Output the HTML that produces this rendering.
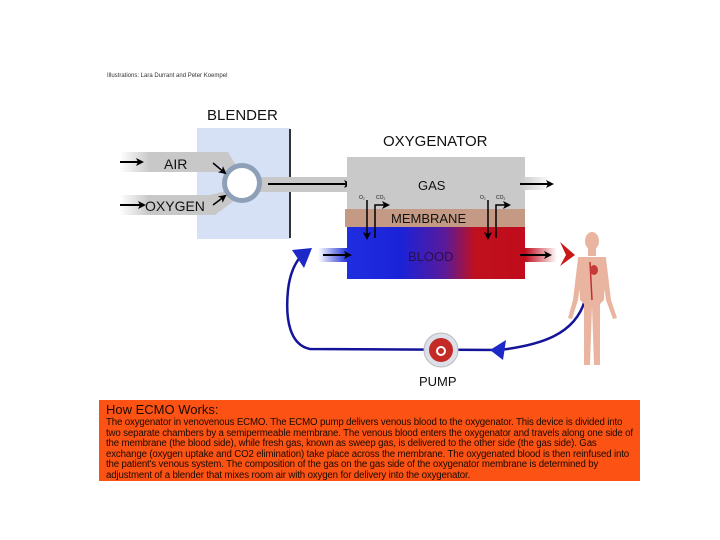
<!DOCTYPE html>
<html><head><style>
body{margin:0;background:#fff;width:720px;height:540px;overflow:hidden;font-family:"Liberation Sans",sans-serif;}
.box{position:absolute;left:99px;top:400px;width:541px;height:81px;background:#fc5314;color:#1a0a00;}
.box h1{margin:0;position:absolute;left:7px;top:2px;font-size:13px;font-weight:normal;}
.box p{margin:0;position:absolute;left:7px;top:18px;width:528px;font-size:9.7px;line-height:10.5px;letter-spacing:-0.15px;}
</style></head><body>
<svg width="720" height="540" style="position:absolute;left:0;top:0" font-family="Liberation Sans, sans-serif">
<defs>
<linearGradient id="bl" x1="0" x2="1"><stop offset="0" stop-color="#1f2ee0"/><stop offset="0.3" stop-color="#1a22d8"/><stop offset="0.55" stop-color="#5a1a9a"/><stop offset="0.72" stop-color="#c0101e"/><stop offset="1" stop-color="#c00c1c"/></linearGradient>
<linearGradient id="fadeB" x1="0" x2="1"><stop offset="0" stop-color="#fff"/><stop offset="1" stop-color="#1e2ed8"/></linearGradient>
<linearGradient id="fadeR" x1="0" x2="1"><stop offset="0" stop-color="#c00c1c"/><stop offset="1" stop-color="#fff"/></linearGradient>
<linearGradient id="fadeG" x1="0" x2="1"><stop offset="0" stop-color="#fff"/><stop offset="0.3" stop-color="#c8c8c8"/></linearGradient>
<linearGradient id="fadeG2" x1="0" x2="1"><stop offset="0" stop-color="#c8c8c8"/><stop offset="1" stop-color="#fff"/></linearGradient>
<marker id="ah" markerWidth="8" markerHeight="8" refX="6" refY="4" orient="auto" markerUnits="userSpaceOnUse"><path d="M0,0 L8,4 L0,8 L2,4z" fill="#000"/></marker>
</defs>
<text x="107" y="77" font-size="6" fill="#333">Illustrations: Lara Durrant and Peter Koempel</text>
<text x="207" y="120" font-size="15" fill="#111">BLENDER</text>
<text x="383" y="146" font-size="15" fill="#111">OXYGENATOR</text>
<rect x="197" y="128" width="93" height="111" fill="#d6e1f6"/>
<line x1="290" y1="129" x2="290" y2="238" stroke="#333" stroke-width="2"/>
<rect x="120" y="152" width="100" height="20" fill="url(#fadeG)"/>
<polygon points="215,152 228,152 240,172 225,176" fill="#c8c8c8"/>
<rect x="120" y="195" width="95" height="20" fill="url(#fadeG)"/>
<polygon points="210,195 230,190 235,200 215,215" fill="#c8c8c8"/>
<rect x="258" y="177" width="92" height="15" fill="#c8c8c8"/>
<circle cx="242" cy="183" r="20" fill="#8da0b8"/>
<circle cx="242" cy="183" r="15" fill="#fff"/>
<text x="164" y="169" font-size="14" fill="#111">AIR</text>
<text x="145" y="211" font-size="14" fill="#111">OXYGEN</text>
<line x1="120" y1="162" x2="142" y2="162" stroke="#000" stroke-width="2" marker-end="url(#ah)"/>
<line x1="120" y1="205" x2="144" y2="205" stroke="#000" stroke-width="2" marker-end="url(#ah)"/>
<line x1="213" y1="163" x2="225" y2="173" stroke="#000" stroke-width="1.5" marker-end="url(#ah)"/>
<line x1="213" y1="205" x2="225" y2="196" stroke="#000" stroke-width="1.5" marker-end="url(#ah)"/>
<line x1="268" y1="184" x2="350" y2="184" stroke="#000" stroke-width="2" marker-end="url(#ah)"/>
<rect x="347" y="157" width="178" height="53" fill="#c9c9c9"/>
<rect x="345" y="209" width="180" height="18" fill="#c49a85"/>
<rect x="347" y="227" width="178" height="52" fill="url(#bl)"/>
<text x="418" y="190" font-size="13" fill="#111">GAS</text>
<text x="391" y="223" font-size="13" fill="#111">MEMBRANE</text>
<text x="408" y="261" font-size="13" fill="#2a1050">BLOOD</text>
<rect x="520" y="177" width="32" height="13" fill="url(#fadeG2)"/>
<line x1="520" y1="184" x2="552" y2="184" stroke="#000" stroke-width="2" marker-end="url(#ah)"/>
<rect x="318" y="248" width="30" height="14" fill="url(#fadeB)"/>
<line x1="323" y1="255" x2="350" y2="255" stroke="#000" stroke-width="2" marker-end="url(#ah)"/>
<rect x="525" y="248" width="32" height="14" fill="url(#fadeR)"/>
<line x1="520" y1="255" x2="550" y2="255" stroke="#000" stroke-width="2" marker-end="url(#ah)"/>
<g font-size="5" fill="#111"><text x="359" y="199">O₂</text><text x="376" y="199">CO₂</text><text x="480" y="199">O₂</text><text x="496" y="199">CO₂</text></g>
<g stroke="#000" stroke-width="1.5" fill="none">
<path d="M367,200 V238" marker-end="url(#ah)"/><path d="M375,238 V205 H388" marker-end="url(#ah)"/>
<path d="M488,200 V238" marker-end="url(#ah)"/><path d="M496,238 V205 H509" marker-end="url(#ah)"/>
</g>
<path d="M585,300 C575,335 540,345 500,350 L310,349 C290,345 285,320 288,290 C290,272 296,260 305,252" stroke="#14149a" stroke-width="2.5" fill="none"/>
<polygon points="292,250 312,248 304,268" fill="#1c28c8"/>
<polygon points="490,350 506,340 503,360" fill="#1c28c8"/>
<circle cx="441" cy="350" r="17" fill="#dde0e8" stroke="#bbb"/>
<circle cx="441" cy="350" r="12" fill="#c42a26"/>
<circle cx="441" cy="351" r="4" fill="none" stroke="#fff" stroke-width="2"/>
<text x="419" y="386" font-size="13" fill="#111">PUMP</text>
<polygon points="560,242 575,255 560,266 566,255" fill="#c81818"/>
<g fill="#e9b5a0">
<ellipse cx="592" cy="241" rx="7" ry="9"/>
<rect x="588" y="248" width="8" height="8"/>
<path d="M578,257 L606,257 L604,300 L598,306 L586,306 L580,300 Z"/>
<path d="M578,258 L573,300 L568,318 L572,319 L578,300 L583,262Z"/>
<path d="M606,258 L611,300 L617,318 L613,319 L606,300 L601,262Z"/>
<path d="M584,304 L592,306 L590,365 L584,365 Z"/>
<path d="M592,306 L600,304 L600,365 L594,365 Z"/>
</g>
<path d="M590,262 L592,300" stroke="#c03030" stroke-width="1.5"/>
<ellipse cx="594" cy="270" rx="4" ry="5" fill="#c83a3a"/>
</svg>
<div class="box"><h1>How ECMO Works:</h1>
<p>The oxygenator in venovenous ECMO. The ECMO pump delivers venous blood to the oxygenator. This device is divided into two separate chambers by a semipermeable membrane. The venous blood enters the oxygenator and travels along one side of the membrane (the blood side), while fresh gas, known as sweep gas, is delivered to the other side (the gas side). Gas exchange (oxygen uptake and CO2 elimination) take place across the membrane. The oxygenated blood is then reinfused into the patient's venous system. The composition of the gas on the gas side of the oxygenator membrane is determined by adjustment of a blender that mixes room air with oxygen for delivery into the oxygenator.</p></div>
</body></html>
